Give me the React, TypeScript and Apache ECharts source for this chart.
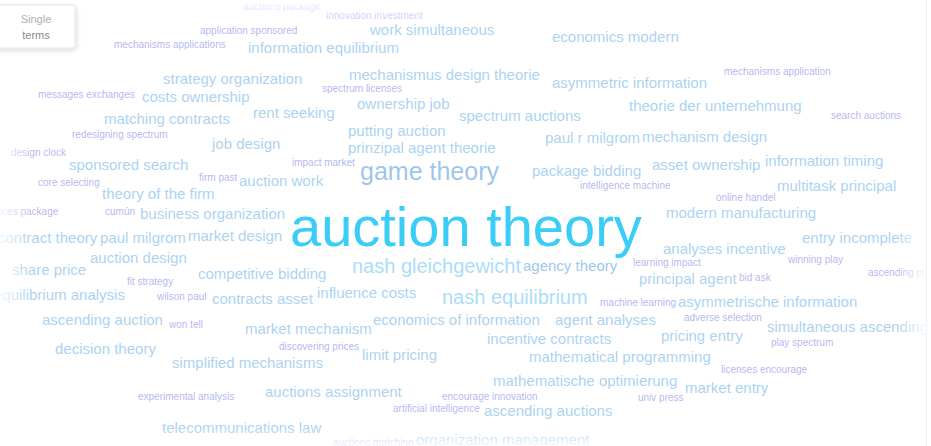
import React, { useEffect, useRef } from "react";
import * as echarts from "echarts";

// Word-cloud terms and their layout coordinates (x = left edge, y = middle), in chart units
const terms = [
  "auctions package", "innovation investment", "work simultaneous", "application sponsored", "economics modern",
  "mechanisms applications", "information equilibrium", "strategy organization", "mechanismus design theorie", "asymmetric information",
  "mechanisms application", "messages exchanges", "costs ownership", "spectrum licenses", "theorie der unternehmung",
  "ownership job", "rent seeking", "spectrum auctions", "search auctions", "matching contracts",
  "redesigning spectrum", "putting auction", "paul r milgrom", "mechanism design", "job design",
  "prinzipal agent theorie", "design clock", "impact market", "sponsored search", "game theory",
  "package bidding", "asset ownership", "information timing", "firm past", "auction work",
  "core selecting", "intelligence machine", "multitask principal", "theory of the firm", "online handel",
  "prices package", "cumún", "business organization", "modern manufacturing", "auction theory",
  "contract theory", "paul milgrom", "market design", "entry incomplete", "analyses incentive",
  "auction design", "winning play", "learning impact", "nash gleichgewicht", "agency theory",
  "share price", "competitive bidding", "ascending prices", "principal agent", "bid ask",
  "fit strategy", "influence costs", "equilibrium analysis", "wilson paul", "contracts asset",
  "nash equilibrium", "machine learning", "asymmetrische information", "ascending auction", "won tell",
  "economics of information", "agent analyses", "adverse selection", "market mechanism", "simultaneous ascending",
  "incentive contracts", "pricing entry", "decision theory", "discovering prices", "limit pricing",
  "play spectrum", "simplified mechanisms", "mathematical programming", "licenses encourage", "mathematische optimierung",
  "market entry", "experimental analysis", "auctions assignment", "encourage innovation", "univ press",
  "artificial intelligence", "ascending auctions", "telecommunications law", "auctions matching", "organization management",
];

const termX = [
  243, 326, 370, 200, 552,
  114, 248, 163, 349, 552,
  724, 38, 142, 322, 629,
  357, 253, 459, 831, 104,
  72, 348, 545, 642, 212,
  348, 11, 292, 69, 360,
  532, 652, 765, 199, 239,
  38, 580, 777, 102, 716,
  -9, 105, 140, 666, 290,
  -2, 100, 188, 802, 663,
  90, 788, 633, 352, 523,
  12, 198, 868, 639, 739,
  127, 317, -6, 157, 212,
  442, 600, 678, 42, 169,
  373, 555, 684, 245, 767,
  487, 661, 55, 279, 362,
  771, 172, 529, 721, 493,
  685, 138, 265, 442, 638,
  393, 484, 162, 333, 416,
];

const termY = [
  6, 15, 29, 30, 36,
  44, 47, 78, 74, 82,
  71, 94, 96, 88, 105,
  103, 112, 115, 115, 118,
  134, 130, 137, 136, 143,
  147, 152, 162, 164, 171,
  170, 164, 160, 177, 180,
  182, 185, 185, 193, 197,
  211, 211, 213, 212, 226,
  237, 237, 235, 237, 248,
  257, 259, 262, 266, 265,
  269, 273, 272, 278, 277,
  281, 292, 294, 296, 298,
  297, 302, 301, 319, 324,
  319, 319, 317, 328, 326,
  338, 335, 348, 346, 354,
  342, 362, 356, 369, 380,
  387, 396, 391, 396, 397,
  408, 410, 427, 442, 439,
];

// term weight (rendered as font size)
const termWeight = [
  10, 10, 15, 10, 15,
  10, 15, 15, 15, 15,
  10, 10, 15, 10, 15,
  15, 15, 15, 10, 15,
  10, 15, 15, 15, 15,
  15, 10, 10, 15, 25,
  15, 15, 15, 10, 15,
  10, 10, 15, 15, 10,
  10, 10, 15, 15, 56,
  15, 15, 15, 15, 15,
  15, 10, 10, 20, 15,
  15, 15, 10, 15, 10,
  10, 15, 15, 10, 15,
  20, 10, 15, 15, 10,
  15, 15, 10, 15, 15,
  15, 15, 15, 10, 15,
  10, 15, 15, 10, 15,
  15, 10, 15, 10, 10,
  10, 15, 15, 10, 15,
];

// term kind: 0 = top term, 1 = frequent pair, 2 = rare pair, 3 = game, 4 = nash
const termKind = [
  2, 2, 1, 2, 1,
  2, 1, 1, 1, 1,
  2, 2, 1, 2, 1,
  1, 1, 1, 2, 1,
  2, 1, 1, 1, 1,
  1, 2, 2, 1, 3,
  1, 1, 1, 2, 1,
  2, 2, 1, 1, 2,
  2, 2, 1, 1, 0,
  1, 1, 1, 1, 1,
  1, 2, 2, 4, 3,
  1, 1, 2, 1, 2,
  2, 1, 1, 2, 1,
  4, 2, 1, 1, 2,
  1, 1, 2, 1, 1,
  1, 1, 1, 2, 1,
  2, 1, 1, 2, 1,
  1, 2, 1, 2, 2,
  2, 1, 1, 2, 1,
];

const kindColors = ["#08c1f5", "#94c7ee", "#a2a5ee", "#84b7e5", "#93d4f6"];
const FONT = "'Liberation Sans', Arial, Helvetica, sans-serif";

export default function App() {
  const ref = useRef<HTMLDivElement>(null);

  useEffect(() => {
    if (!ref.current) return;
    const chart = echarts.init(ref.current, undefined, { renderer: "svg" });

    const data = terms.map((t, i) => ({
      name: t,
      value: [termX[i], termY[i]],
      label: {
        fontSize: termWeight[i],
        color: kindColors[termKind[i]],
      },
    }));

    const W = 931;
    const H = 446;

    chart.setOption({
      animation: false,
      backgroundColor: "#ffffff",
      grid: { left: 0, right: 0, top: 0, bottom: 0, containLabel: false },
      xAxis: { type: "value", min: 0, max: W, show: false },
      yAxis: { type: "value", min: 0, max: H, inverse: true, show: false },
      series: [
        {
          type: "scatter",
          clip: false,
          silent: true,
          symbolSize: 1,
          itemStyle: { color: "rgba(0,0,0,0)" },
          label: {
            show: true,
            position: "inside",
            align: "left",
            verticalAlign: "middle",
            fontFamily: FONT,
            formatter: (p: any) => p.name,
          },
          emphasis: { disabled: true },
          data,
        },
      ],
      graphic: [
        {
          type: "rect",
          z: 100,
          silent: true,
          shape: { x: 0, y: 0, width: 32, height: H },
          style: {
            fill: new echarts.graphic.LinearGradient(0, 0, 1, 0, [
              { offset: 0, color: "rgba(255,255,255,0.85)" },
              { offset: 1, color: "rgba(255,255,255,0)" },
            ]),
          },
        },
        {
          type: "rect",
          z: 100,
          silent: true,
          shape: { x: 0, y: 0, width: W, height: 26 },
          style: {
            fill: new echarts.graphic.LinearGradient(0, 0, 0, 1, [
              { offset: 0, color: "rgba(255,255,255,0.95)" },
              { offset: 1, color: "rgba(255,255,255,0)" },
            ]),
          },
        },
        {
          type: "rect",
          z: 100,
          silent: true,
          shape: { x: 0, y: 428, width: W, height: 18 },
          style: {
            fill: new echarts.graphic.LinearGradient(0, 0, 0, 1, [
              { offset: 0, color: "rgba(255,255,255,0)" },
              { offset: 1, color: "rgba(255,255,255,0.85)" },
            ]),
          },
        },
        {
          type: "rect",
          z: 100,
          silent: true,
          shape: { x: 896, y: 0, width: 30, height: H },
          style: {
            fill: new echarts.graphic.LinearGradient(0, 0, 1, 0, [
              { offset: 0, color: "rgba(255,255,255,0)" },
              { offset: 1, color: "rgba(255,255,255,0.9)" },
            ]),
          },
        },
        {
          type: "rect",
          z: 101,
          silent: true,
          shape: { x: 926, y: 0, width: 5, height: H },
          style: { fill: "#ffffff" },
        },
        {
          type: "line",
          z: 102,
          silent: true,
          shape: { x1: 926.5, y1: 0, x2: 926.5, y2: H },
          style: { stroke: "#f0f0f0", lineWidth: 1 },
        },
        {
          type: "rect",
          z: 110,
          silent: true,
          shape: { x: -4, y: 5, width: 79, height: 43, r: 3 },
          style: {
            fill: "#ffffff",
            stroke: "#e6e6e6",
            lineWidth: 1,
            shadowBlur: 5,
            shadowOffsetX: 1,
            shadowOffsetY: 2,
            shadowColor: "rgba(0,0,0,0.14)",
          },
        },
        {
          type: "text",
          z: 111,
          silent: true,
          x: 36,
          y: 19,
          style: {
            text: "Single",
            fill: "#b0b0b0",
            font: `11px ${FONT}`,
            align: "center",
            verticalAlign: "middle",
          },
        },
        {
          type: "text",
          z: 111,
          silent: true,
          x: 36,
          y: 35,
          style: {
            text: "terms",
            fill: "#8c8c8c",
            font: `11px ${FONT}`,
            align: "center",
            verticalAlign: "middle",
          },
        },
      ],
    });

    return () => chart.dispose();
  }, []);

  return (
    <div
      ref={ref}
      style={{ position: "fixed", left: 0, top: 0, width: 931, height: 446 }}
    />
  );
}
